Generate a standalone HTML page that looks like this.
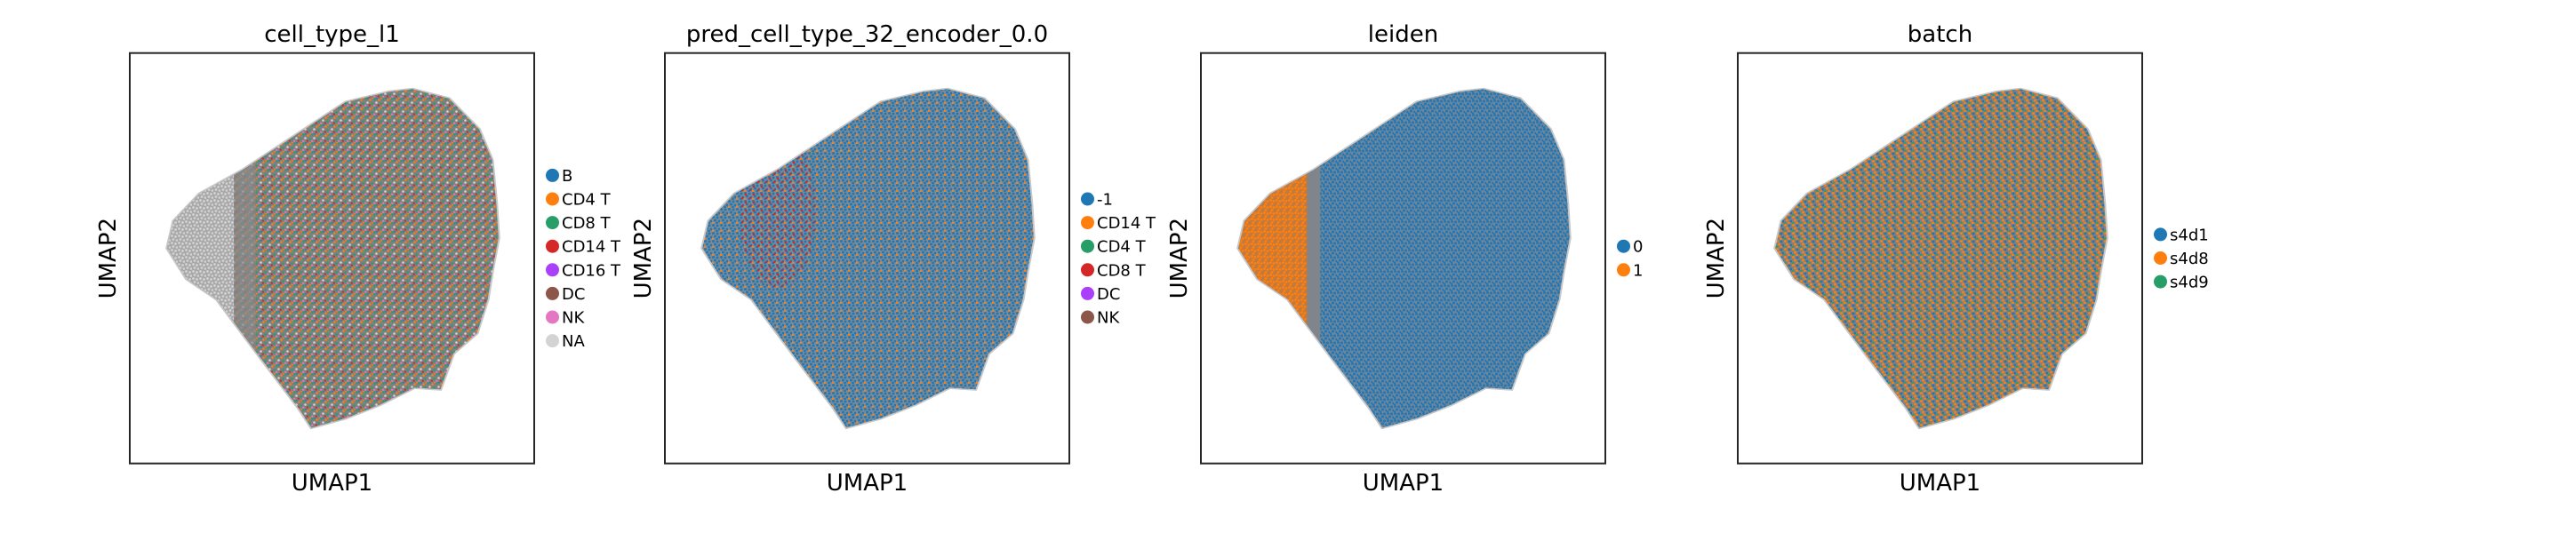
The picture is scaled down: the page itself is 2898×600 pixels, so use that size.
<!DOCTYPE html>
<html><head><meta charset="utf-8">
<style>
html,body{margin:0;padding:0;background:#fff;}
svg{display:block;font-family:"DejaVu Sans","Liberation Sans",sans-serif;}
</style></head>
<body>
<svg id="fig" width="2898" height="600" viewBox="0 0 2898 600" xmlns="http://www.w3.org/2000/svg">
<defs>
  <pattern id="pat-ct" patternUnits="userSpaceOnUse" width="10" height="10">
    <rect width="10" height="10" fill="#808080"/>
    <circle cx="1.5" cy="1.5" r="1.3" fill="#279e68"/><circle cx="6.5" cy="2.5" r="1.3" fill="#ff7f0e"/>
    <circle cx="3.5" cy="5.5" r="1.3" fill="#d3d3d3"/><circle cx="8.5" cy="6.5" r="1.3" fill="#279e68"/>
    <circle cx="1.2" cy="8.8" r="1.2" fill="#e377c2"/><circle cx="5.8" cy="8.6" r="1.2" fill="#d62728"/>
    <circle cx="9" cy="0.5" r="1" fill="#ff7f0e"/><circle cx="4" cy="0.8" r="0.9" fill="#1f77b4"/>
  </pattern>
  <pattern id="pat-na" patternUnits="userSpaceOnUse" width="8" height="8">
    <rect width="8" height="8" fill="#a8a8a8"/>
    <circle cx="1.5" cy="1.5" r="1.4" fill="#d3d3d3"/><circle cx="5.5" cy="2.5" r="1.4" fill="#d3d3d3"/>
    <circle cx="3" cy="5.5" r="1.4" fill="#d3d3d3"/><circle cx="7" cy="6.5" r="1.3" fill="#d3d3d3"/>
  </pattern>
  <pattern id="pat-pred" patternUnits="userSpaceOnUse" width="9" height="9">
    <rect width="9" height="9" fill="#7d8a96"/>
    <circle cx="1.5" cy="1.5" r="1.5" fill="#1f77b4"/><circle cx="6" cy="2" r="1.5" fill="#1f77b4"/>
    <circle cx="3.5" cy="5" r="1.5" fill="#1f77b4"/><circle cx="8" cy="6" r="1.4" fill="#1f77b4"/>
    <circle cx="1" cy="8" r="1.2" fill="#ff7f0e"/><circle cx="5.5" cy="8" r="1.4" fill="#1f77b4"/>
  </pattern>
  <pattern id="pat-red" patternUnits="userSpaceOnUse" width="9" height="9">
    <circle cx="2" cy="3" r="1.3" fill="#d62728"/><circle cx="7" cy="7" r="1.2" fill="#d62728"/>
  </pattern>
  <pattern id="pat-leiden" patternUnits="userSpaceOnUse" width="8" height="8">
    <rect width="8" height="8" fill="#6f859a"/>
    <circle cx="1.5" cy="1.5" r="1.5" fill="#1f77b4"/><circle cx="5.5" cy="2" r="1.5" fill="#1f77b4"/>
    <circle cx="3.5" cy="5" r="1.5" fill="#1f77b4"/><circle cx="7.5" cy="6" r="1.4" fill="#1f77b4"/>
    <circle cx="1" cy="7.5" r="1.3" fill="#1f77b4"/>
  </pattern>
  <pattern id="pat-orange" patternUnits="userSpaceOnUse" width="7" height="7">
    <rect width="7" height="7" fill="#c07a40"/>
    <circle cx="1.5" cy="1.5" r="1.5" fill="#ff7f0e"/><circle cx="5" cy="2.5" r="1.5" fill="#ff7f0e"/>
    <circle cx="3" cy="5.5" r="1.5" fill="#ff7f0e"/>
  </pattern>
  <pattern id="pat-batch" patternUnits="userSpaceOnUse" width="9" height="9">
    <rect width="9" height="9" fill="#808080"/>
    <circle cx="1.5" cy="1.5" r="1.5" fill="#ff7f0e"/><circle cx="6" cy="2" r="1.5" fill="#1f77b4"/>
    <circle cx="3.5" cy="5" r="1.5" fill="#ff7f0e"/><circle cx="8" cy="6" r="1.4" fill="#1f77b4"/>
    <circle cx="1" cy="8" r="1.2" fill="#279e68"/><circle cx="5.5" cy="8" r="1.4" fill="#ff7f0e"/>
  </pattern>
</defs>
<g id="panels"></g>
</svg>
<script>
// Panel definitions (titles, legend categories and colours)
const panelTitles = ["cell_type_l1", "pred_cell_type_32_encoder_0.0", "leiden", "batch"];
const legend1 = ["B","CD4 T","CD8 T","CD14 T","CD16 T","DC","NK","NA"];
const colors1 = ["#1f77b4","#ff7f0e","#279e68","#d62728","#aa40fc","#8c564b","#e377c2","#d3d3d3"];
const legend2 = ["-1","CD14 T","CD4 T","CD8 T","DC","NK"];
const colors2 = ["#1f77b4","#ff7f0e","#279e68","#d62728","#aa40fc","#8c564b"];
const legend3 = ["0","1"];
const colors3 = ["#1f77b4","#ff7f0e"];
const legend4 = ["s4d1","s4d8","s4d9"];
const colors4 = ["#1f77b4","#ff7f0e","#279e68"];
const legends = [legend1, legend2, legend3, legend4];
const legendColors = [colors1, colors2, colors3, colors4];
const fills = ["pat-ct","pat-pred","pat-leiden","pat-batch"];

const NS = "http://www.w3.org/2000/svg";
const root = document.getElementById("panels");
const frameX = [146, 748, 1351, 1955];
const frameY = 59.7, frameW = 455, frameH = 462;
// embedding outline (reference space of frame 940x1207)
const outline = "955,262 1040,290 1110,380 1140,470 1150,600 1155,700 1140,800 1130,880 1105,980 1050,1040 1020,1145 960,1140 880,1190 800,1230 720,1258 690,1200 600,1050 500,880 430,820 385,730 400,650 460,570 560,500 680,400 800,300 900,270";

function mk(tag, attrs, parent){
  const e = document.createElementNS(NS, tag);
  for (const k in attrs) e.setAttribute(k, attrs[k]);
  parent.appendChild(e);
  return e;
}

panelTitles.forEach((title, i) => {
  const fx = frameX[i];
  const sx = frameW/940, sy = frameH/1207;
  const tr = `translate(${fx - 298*sx},${frameY - 156*sy}) scale(${sx},${sy})`;
  const g = mk("g", {}, root);
  
  

  const defs = mk("defs", {}, g);
  const cp = mk("clipPath", {id: "clip"+i}, defs);
  mk("polygon", {points: outline, transform: tr}, cp);

  // faint edge halo
  const halo = mk("polygon", {points: outline, transform: tr, fill: "#bdbdbd", stroke: "#c8c8c8", "stroke-width": 8}, g);
  
  

  const cg = mk("g", {"clip-path": `url(#clip${i})`}, g);
  const dots = mk("rect", {x: fx, y: frameY, width: frameW, height: frameH, fill: `url(#${fills[i]})`}, cg);
  
  
  if (i === 0) {
    const na = mk("rect", {x: fx, y: frameY, width: (540-298)*sx, height: frameH, fill: "url(#pat-na)"}, cg);
    
    
    const grayBand = mk("rect", {x: fx + (540-298)*sx, y: frameY, width: 50*sx, height: frameH, fill: "#8a8a8a", opacity: 0.7}, cg);
    
    
  }
  if (i === 1) {
    const red = mk("ellipse", {cx: fx + (560-298)*sx, cy: frameY + (620-156)*sy, rx: 90*sx, ry: 230*sy, fill: "url(#pat-red)"}, cg);
    
    
  }
  if (i === 2) {
    const or = mk("rect", {x: fx, y: frameY, width: (545-298)*sx, height: frameH, fill: "url(#pat-orange)"}, cg);
    
    
    const gb = mk("rect", {x: fx + (545-298)*sx, y: frameY, width: 30*sx, height: frameH, fill: "#7f858b"}, cg);
    
    
  }

  const frame = mk("rect", {x: fx, y: frameY, width: frameW, height: frameH, fill: "none", stroke: "#262626", "stroke-width": 2}, g);
  
  

  const t = mk("text", {x: fx + frameW/2, y: 47, "font-size": 26, "text-anchor": "middle", fill: "#000"}, g);
  t.textContent = title;
  
  

  const xl = mk("text", {x: fx + frameW/2, y: 552, "font-size": 26, "text-anchor": "middle", fill: "#000"}, g);
  xl.textContent = "UMAP1";
  
  

  const yl = mk("text", {x: 0, y: 0, "font-size": 26, "text-anchor": "middle", fill: "#000", transform: `translate(${fx - 16},${frameY + frameH/2}) rotate(-90)`}, g);
  yl.textContent = "UMAP2";
  
  

  const items = legends[i], cols = legendColors[i];
  const step = 26.6;
  const y0 = 290.5 - (items.length - 1) * step / 2;
  items.forEach((lab, j) => {
    const lg = mk("g", {}, g);
    
    
    mk("circle", {cx: fx + frameW + 20.5, cy: y0 + j*step, r: 7.5, fill: cols[j]}, lg);
    const lt = mk("text", {x: fx + frameW + 31, y: y0 + j*step + 6.5, "font-size": 18, fill: "#000"}, lg);
    lt.textContent = lab;
  });
});
</script>
</body></html>
